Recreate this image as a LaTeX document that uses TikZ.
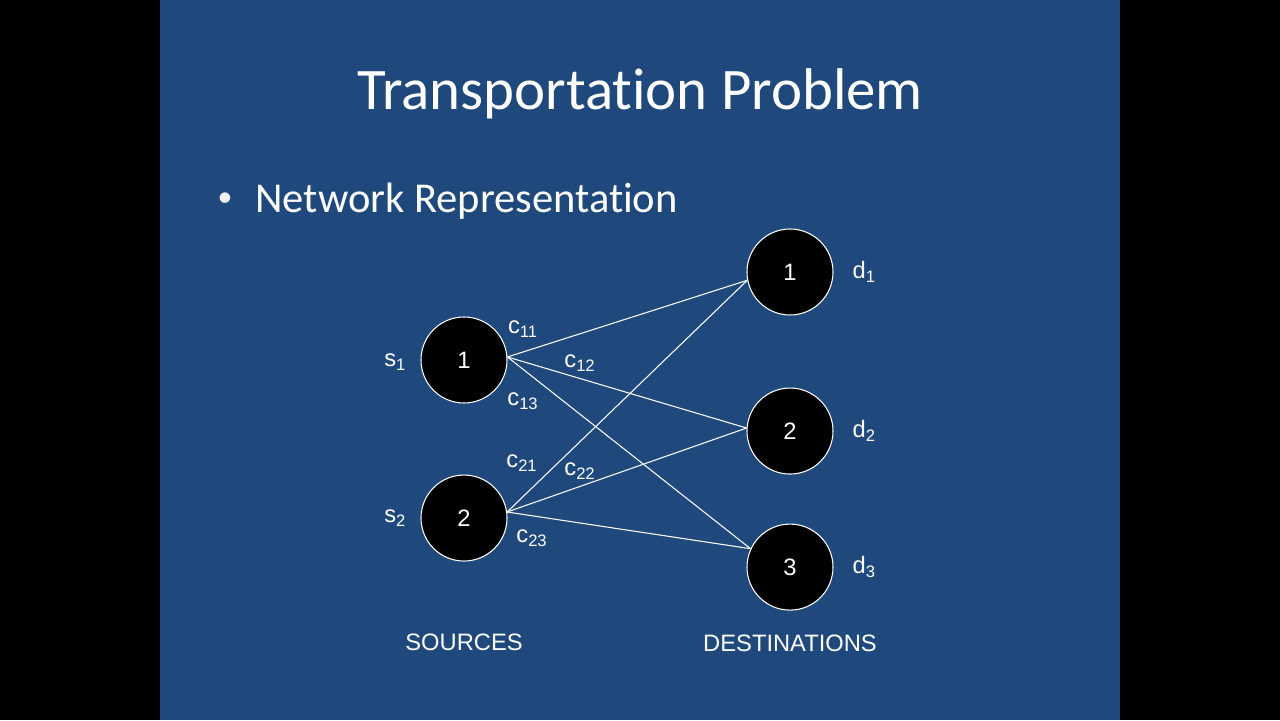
\documentclass[tikz,border=0pt]{standalone}
\usepackage{fontspec}
\setmainfont{Liberation Sans}
\newfontfamily\slidefont[Ligatures=CommonOff]{Carlito}
\usepackage{tikz}
\usetikzlibrary{positioning}
\definecolor{slideblue}{HTML}{1F497D}

\begin{document}
\begin{tikzpicture}[
    node distance=0.2cm,
    vertex/.style={
        circle,
        draw=white,
        line width=0.6pt,
        fill=black,
        text=white,
        minimum size=1.72cm,
        inner sep=0pt,
        font=\fontsize{13.5}{16}\selectfont
    },
    lbl/.style={
        text=white,
        font=\fontsize{13.5}{16}\selectfont
    },
    link/.style={draw=white, line width=0.6pt}
]
\useasboundingbox (0,0) rectangle (25.6,14.4);
\fill[black] (0,0) rectangle (25.6,14.4);
\fill[slideblue] (3.2,0) rectangle (22.4,14.4);

\node[text=white, font=\slidefont\fontsize{33.5}{40}\selectfont] (title) at (12.8,12.52) {Transportation Problem};
\node[text=white, font=\slidefont\fontsize{24.2}{29}\selectfont, anchor=west, inner sep=0pt] (sub) at (5.1,10.37) {Network Representation};
\node[text=white!95!black, font=\slidefont\fontsize{17}{20}\selectfont] (bullet) at (4.5,10.4) {•};

\node[vertex] (s1) at (9.28,7.2) {1};
\node[vertex, below=1.42cm of s1] (s2) {2};
\node[vertex] (d1) at (15.8,8.96) {1};
\node[vertex, below=1.44cm of d1] (d2) {2};
\node[vertex, below=0.98cm of d2] (d3) {3};

\node[lbl, left=0.16cm of s1, yshift=-0.05cm] (s1lbl) {s\textsubscript{1}};
\node[lbl, left=0.16cm of s2] (s2lbl) {s\textsubscript{2}};
\node[lbl, right=0.26cm of d1] (d1lbl) {d\textsubscript{1}};
\node[lbl, right=0.26cm of d2] (d2lbl) {d\textsubscript{2}};
\node[lbl, right=0.26cm of d3] (d3lbl) {d\textsubscript{3}};

\draw[link] (s1.4) -- (d1.191);
\draw[link] (s1.4) -- (d2.176);
\draw[link] (s1.4) -- (d3.155);
\draw[link] (s2.8) -- (d1.191);
\draw[link] (s2.8) -- (d2.176);
\draw[link] (s2.8) -- (d3.155);

\node[lbl] (c11) at (10.46,7.82) {c\textsubscript{11}};
\node[lbl] (c12) at (11.6,7.14) {c\textsubscript{12}};
\node[lbl] (c13) at (10.46,6.38) {c\textsubscript{13}};
\node[lbl] (c21) at (10.44,5.14) {c\textsubscript{21}};
\node[lbl] (c22) at (11.6,4.98) {c\textsubscript{22}};
\node[lbl] (c23) at (10.64,3.64) {c\textsubscript{23}};

\node[lbl, below=1.33cm of s2] (src) {SOURCES};
\node[lbl, below=0.36cm of d3] (dst) {DESTINATIONS};
\end{tikzpicture}
\end{document}
